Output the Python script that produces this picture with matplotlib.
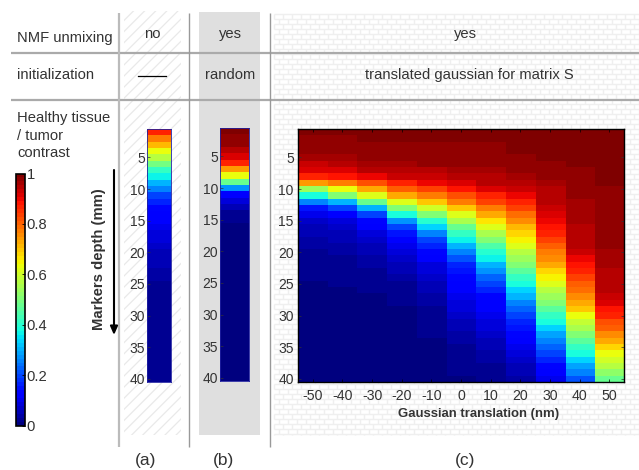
import numpy as np
import matplotlib
matplotlib.use("Agg")
import matplotlib.pyplot as plt
from matplotlib.patches import Rectangle
from matplotlib.collections import LineCollection
from matplotlib.cm import ScalarMappable
from matplotlib.colors import Normalize

plt.rcParams['font.family'] = ['Liberation Sans', 'DejaVu Sans']
plt.rcParams['hatch.linewidth'] = 0.9

translations = [-50, -40, -30, -20, -10, 0, 10, 20, 30, 40, 50]
depth_ticks = [5, 10, 15, 20, 25, 30, 35, 40]
contrast_ticks = [0, 0.2, 0.4, 0.6, 0.8, 1]
contrast_labels = ['0', '0.2', '0.4', '0.6', '0.8', '1']

panel_a = [.87,.78,.71,.64,.57,.49,.42,.37,.30,.26,.20,.17,.14,.12,.11,.10,.09,.08,.07,.06,
           .05,.05,.04,.04,.03,.03,.03,.03,.02,.02,.02,.02,.02,.02,.02,.02,.02,.02,.02,.02]
panel_b = [.99,.98,.97,.94,.91,.87,.74,.63,.48,.28,.12,.08,.05,.03,.02,.01,.01,.01,.01,.01,
           .01,.01,.01,.01,.01,.01,.01,.01,.01,.01,.01,.01,.01,.01,.01,.01,.01,.01,.01,.01]

col_m50 = [.99,.98,.98,.97,.96,.93,.91,.87,.74,.54,.38,.25,.15,.10,.07,.06,.05,.04,.04,.03,
           .03,.02,.02,.02,.01,.01,.01,.01,.01,.01,.01,.01,.01,.01,.01,.01,.01,.01,.01,.01]
col_m40 = [.99,.98,.98,.97,.96,.95,.92,.88,.78,.63,.50,.30,.19,.12,.09,.07,.06,.05,.04,.04,
           .03,.03,.02,.02,.02,.01,.01,.01,.01,.01,.01,.01,.01,.01,.01,.01,.01,.01,.01,.01]
col_m30 = [.99,.99,.98,.98,.97,.96,.94,.90,.82,.72,.61,.47,.31,.20,.14,.11,.09,.07,.06,.05,
           .04,.04,.03,.03,.02,.02,.01,.01,.01,.01,.01,.01,.01,.01,.01,.01,.01,.01,.01,.01]
col_m20 = [.99,.99,.98,.98,.97,.96,.95,.93,.87,.80,.72,.62,.50,.38,.27,.20,.15,.12,.10,.08,
           .07,.06,.05,.04,.03,.03,.02,.02,.01,.01,.01,.01,.01,.01,.01,.01,.01,.01,.01,.01]
col_m10 = [.99,.99,.98,.98,.97,.97,.95,.93,.90,.84,.77,.70,.60,.50,.40,.33,.26,.19,.16,.13,
           .11,.09,.08,.07,.06,.05,.04,.04,.03,.03,.02,.02,.02,.01,.01,.01,.01,.01,.01,.01]
col_0 = [.99,.99,.98,.98,.97,.97,.96,.94,.92,.88,.82,.77,.70,.62,.56,.47,.42,.36,.31,.26,
         .21,.17,.15,.13,.12,.11,.10,.09,.08,.07,.06,.05,.04,.04,.03,.03,.02,.02,.02,.01]
col_10 = [.99,.99,.98,.98,.98,.97,.96,.95,.94,.92,.87,.83,.77,.72,.67,.62,.56,.50,.45,.40,
          .36,.31,.27,.23,.20,.17,.14,.12,.11,.10,.09,.08,.07,.06,.05,.04,.04,.03,.03,.02]
col_20 = [.99,.99,.99,.99,.98,.98,.97,.96,.95,.93,.90,.87,.83,.79,.75,.71,.68,.65,.62,.57,
          .54,.50,.46,.41,.38,.34,.30,.26,.23,.20,.17,.15,.13,.11,.10,.08,.07,.06,.05,.04]
col_30 = [.99,.99,.99,.99,.99,.98,.98,.97,.96,.95,.95,.94,.93,.92,.90,.88,.86,.83,.81,.78,
          .75,.72,.68,.65,.62,.57,.54,.50,.46,.41,.38,.33,.29,.26,.22,.19,.16,.13,.11,.10]
col_40 = [1.0,1.0,.99,.99,.99,.99,.98,.98,.97,.97,.97,.96,.96,.96,.96,.95,.95,.94,.94,.93,
          .90,.88,.86,.84,.81,.79,.76,.72,.69,.63,.59,.55,.50,.46,.41,.38,.33,.29,.25,.21]
col_50 = [1.0,1.0,1.0,1.0,1.0,.99,.99,.99,.99,.98,.98,.98,.98,.98,.98,.97,.97,.97,.97,.96,
          .96,.96,.95,.95,.95,.94,.93,.92,.89,.87,.82,.80,.76,.72,.68,.64,.60,.57,.52,.47]

W, H = 639, 470
fig = plt.figure(figsize=(W / 100, H / 100), dpi=100)
TXT = '#333333'
cmap = matplotlib.colormaps['jet'].resampled(64)
norm = Normalize(0, 1)


def box(x0, y0, x1, y1, **kw):
    return fig.add_axes([x0 / W, 1 - y1 / H, (x1 - x0) / W, (y1 - y0) / H], **kw)


bg = box(0, 0, W, H)
bg.set_xlim(0, W)
bg.set_ylim(H, 0)
bg.axis('off')

bg.add_patch(Rectangle((123.5, 11), 57, 424, facecolor='white', edgecolor='#e9e9e9', hatch='///', lw=0))
bg.add_patch(Rectangle((199, 12), 61, 423, facecolor='#dfdfdf', edgecolor='none'))

# brick texture behind panel (c)
brick_segments = []
for row, y in enumerate(np.arange(14, 435, 5.0)):
    brick_segments.append([(274, y), (639, y)])
    for x in np.arange(274 + (row % 2) * 4.5, 639, 9.0):
        brick_segments.append([(x, y), (x, min(y + 5, 435))])
bg.add_collection(LineCollection(brick_segments, colors='#efefef', linewidths=1.0))

for y in (53, 100):
    bg.plot([11, W], [y, y], color='#aaaaaa', lw=1.6, solid_capstyle='butt')
bg.plot([119, 119], [13, 447], color='#bbbbbb', lw=1.6, solid_capstyle='butt')
for x in (188.5, 269.5):
    bg.plot([x, x], [13, 447], color='#999999', lw=1.0, solid_capstyle='butt')
bg.plot([138, 166], [76, 76], color='black', lw=0.9)


def label(x, y, s, ha='left', size=10.6, **kw):
    bg.text(x, y, s, ha=ha, va='center', fontsize=size, color=TXT, **kw)


label(17, 38, 'NMF unmixing')
label(17, 75, 'initialization')
label(17, 118, 'Healthy tissue')
label(17, 136, '/ tumor')
label(17, 153, 'contrast')
label(152, 34, 'no', 'center')
label(230, 34, 'yes', 'center')
label(230, 75, 'random', 'center')
label(465, 34, 'yes', 'center')
label(469.5, 75, 'translated gaussian for matrix S', 'center')
label(146, 461, '(a)', 'center', 12.5)
label(223, 461, '(b)', 'center', 12.5)
label(465, 461, '(c)', 'center', 12.5)

bg.annotate('', xy=(114, 335), xytext=(114, 170),
            arrowprops=dict(arrowstyle='-|>,head_width=0.22,head_length=0.5', color='black', lw=1.5,
                            shrinkA=0, shrinkB=0))
bg.text(99, 259, 'Markers depth (mm)', rotation=90, ha='center', va='center',
        fontsize=10.7, fontweight='bold', color=TXT)
bg.text(478.5, 414, 'Gaussian translation (nm)', ha='center', va='center',
        fontsize=9.45, fontweight='bold', color=TXT)


def heat(ax, values, edge, width=0.6, pad=1.5):
    data = np.asarray(values)
    ax.imshow(data, cmap=cmap, norm=norm, aspect='auto', interpolation='nearest',
              extent=[-0.5, data.shape[1] - 0.5, 40.5, 0.5])
    ax.set_yticks(depth_ticks)
    ax.tick_params(axis='y', direction='in', length=2, width=0.5, pad=pad, labelsize=10,
                   labelcolor=TXT, color='#333333')
    for s in ax.spines.values():
        s.set_color(edge)
        s.set_linewidth(width)


ax_a = box(147, 129, 171, 382)
heat(ax_a, np.array(panel_a)[:, None], '#2020a0')
ax_a.set_xticks([])

ax_b = box(220, 128, 249, 381)
heat(ax_b, np.array(panel_b)[:, None], '#2020a0')
ax_b.set_xticks([])

ax_c = box(298, 129, 624, 382)
columns = [col_m50, col_m40, col_m30, col_m20, col_m10, col_0, col_10, col_20, col_30, col_40, col_50]
heat(ax_c, np.array(columns).T, 'black', 1.0, pad=3)
ax_c.set_xticks(range(len(translations)))
ax_c.set_xticklabels([str(t) for t in translations])
ax_c.tick_params(axis='x', direction='in', length=2, width=0.5, pad=5, labelsize=10.2,
                 labelcolor=TXT, top=True, bottom=True)
ax_c.tick_params(axis='y', right=True, left=True)

cax = box(15.8, 173.5, 25, 425.5)
cb = fig.colorbar(ScalarMappable(norm=norm, cmap=cmap), cax=cax)
cb.set_ticks(contrast_ticks)
cb.set_ticklabels(contrast_labels)
cb.ax.tick_params(direction='in', length=2, width=0.6, pad=1, labelsize=10.6, labelcolor=TXT)
cb.outline.set_linewidth(1.2)

fig.savefig('out.png', dpi=100)
